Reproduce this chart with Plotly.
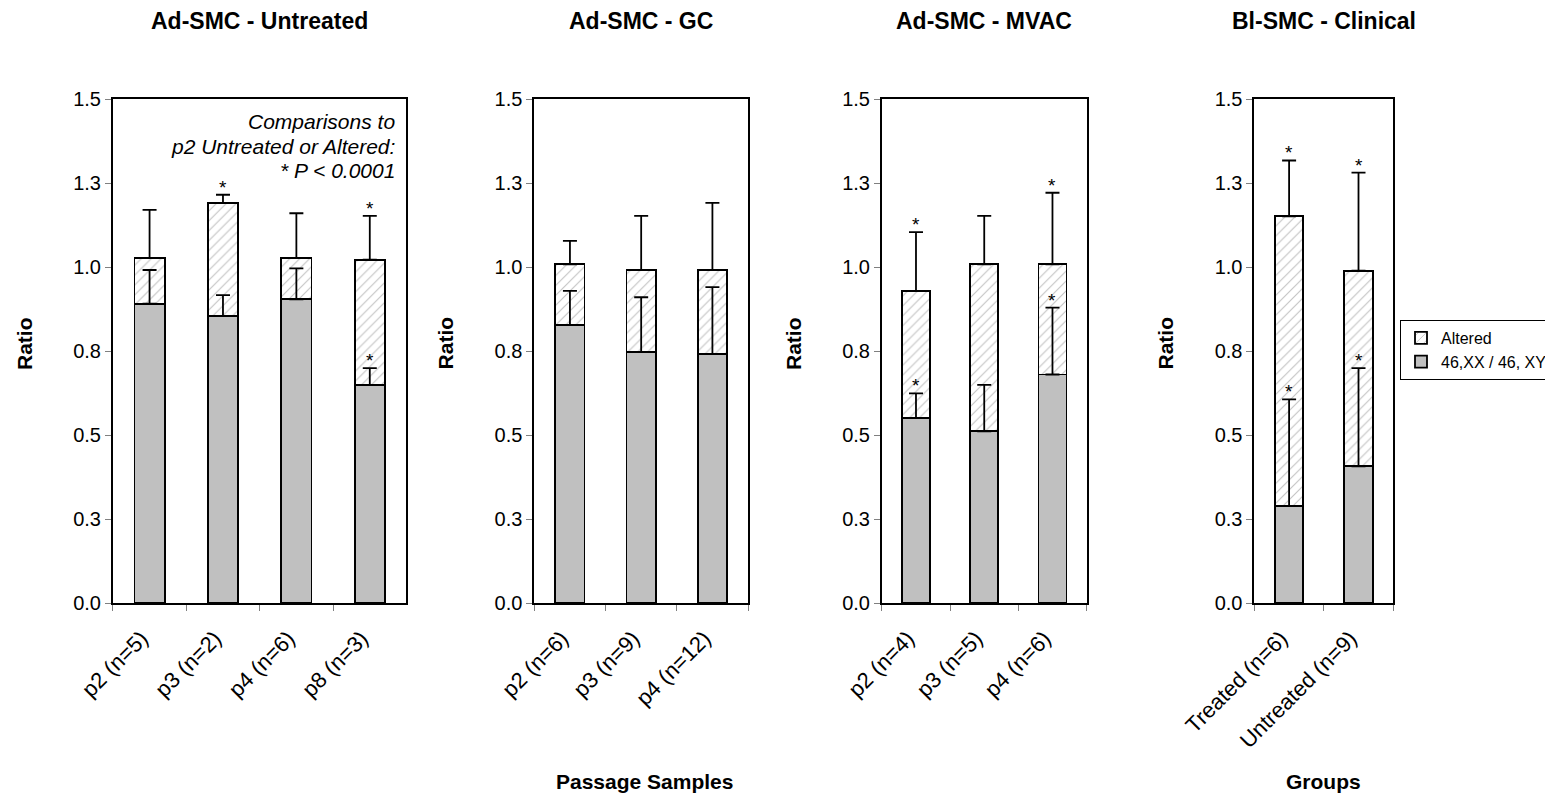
import plotly.graph_objects as go

# ---------------- data ----------------
panel_titles = ["Ad-SMC - Untreated", "Ad-SMC - GC", "Ad-SMC - MVAC", "Bl-SMC - Clinical"]

cats1 = ["p2 (n=5)", "p3 (n=2)", "p4 (n=6)", "p8 (n=3)"]
normal1 = [0.891, 0.854, 0.904, 0.649]
altered1 = [0.136, 0.337, 0.123, 0.373]
normal_sd1 = [0.100, 0.062, 0.092, 0.050]
total_sd1 = [0.143, 0.024, 0.133, 0.130]
sig_normal1 = [False, False, False, True]
sig_total1 = [False, True, False, True]

cats2 = ["p2 (n=6)", "p3 (n=9)", "p4 (n=12)"]
normal2 = [0.828, 0.747, 0.741]
altered2 = [0.180, 0.244, 0.250]
normal_sd2 = [0.101, 0.163, 0.199]
total_sd2 = [0.070, 0.161, 0.200]
sig_normal2 = [False, False, False]
sig_total2 = [False, False, False]

cats3 = ["p2 (n=4)", "p3 (n=5)", "p4 (n=6)"]
normal3 = [0.550, 0.511, 0.680]
altered3 = [0.379, 0.497, 0.328]
normal_sd3 = [0.074, 0.138, 0.199]
total_sd3 = [0.175, 0.144, 0.213]
sig_normal3 = [True, False, True]
sig_total3 = [True, False, True]

cats4 = ["Treated (n=6)", "Untreated (n=9)"]
normal4 = [0.289, 0.407]
altered4 = [0.862, 0.582]
normal_sd4 = [0.317, 0.292]
total_sd4 = [0.166, 0.292]
sig_normal4 = [True, True]
sig_total4 = [True, True]

y_tickvals = [0, 0.25, 0.5, 0.75, 1.0, 1.25, 1.5]
y_ticktext = ["0.0", "0.3", "0.5", "0.8", "1.0", "1.3", "1.5"]

note_lines = ["Comparisons to", "p2 Untreated or Altered:", "* P &lt; 0.0001"]

panels = [
    (cats1, normal1, altered1, normal_sd1, total_sd1, sig_normal1, sig_total1),
    (cats2, normal2, altered2, normal_sd2, total_sd2, sig_normal2, sig_total2),
    (cats3, normal3, altered3, normal_sd3, total_sd3, sig_normal3, sig_total3),
    (cats4, normal4, altered4, normal_sd4, total_sd4, sig_normal4, sig_total4),
]

# ---------------- layout geometry (page pixels) ----------------
PAGE_W, PAGE_H = 1553, 795
OFF = 8                      # default body margin of the html page
W, H = PAGE_W - OFF, PAGE_H - OFF


def PX(x):
    return (x - OFF) / W


def PY(y):
    return 1 - (y - OFF) / H


x_px = [(113, 407), (535, 749), (883, 1088), (1256, 1395)]
y_top, y_bot = 99, 603
ydom = [PY(y_bot), PY(y_top)]

FONT = "Liberation Sans, Arial, sans-serif"
GRAY = "#c0c0c0"

fig = go.Figure()
annotations = []


def paper_note(xpx, ypx, text, size, bold=False, angle=0, xanchor="center"):
    return dict(x=PX(xpx), y=PY(ypx), xref="paper", yref="paper",
                xanchor=xanchor, yanchor="middle", textangle=angle,
                text=("<b>%s</b>" % text) if bold else text, showarrow=False,
                font=dict(family=FONT, size=size, color="black"))


for i, (cats, normal, altered, nsd, tsd, sign, sigt) in enumerate(panels):
    k = "" if i == 0 else str(i + 1)
    xa, ya = "x" + k, "y" + k
    total = [a + b for a, b in zip(normal, altered)]
    fig.add_trace(go.Bar(
        x=cats, y=normal, xaxis=xa, yaxis=ya, name="46,XX / 46, XY",
        marker=dict(color=GRAY, line=dict(color="black", width=1.8)),
        width=0.41, showlegend=(i == 0), legendgroup="n",
    ))
    fig.add_trace(go.Bar(
        x=cats, y=altered, xaxis=xa, yaxis=ya, name="Altered",
        marker=dict(color="white", line=dict(color="black", width=1.8),
                    pattern=dict(shape="/", fgcolor="#c4c4c4", bgcolor="white",
                                 size=7, solidity=0.16)),
        width=0.41, showlegend=(i == 0), legendgroup="a",
    ))
    for yy, sd in ((normal, nsd), (total, tsd)):
        fig.add_trace(go.Scatter(
            x=cats, y=yy, xaxis=xa, yaxis=ya, mode="markers",
            marker=dict(size=1, opacity=0), showlegend=False, hoverinfo="skip",
            error_y=dict(type="data", array=sd, arrayminus=[0] * len(sd),
                         symmetric=False, color="black", thickness=1.8, width=7),
        ))
    for c, yy, sd, s in list(zip(cats, normal, nsd, sign)) + list(zip(cats, total, tsd, sigt)):
        if s:
            annotations.append(dict(x=c, y=yy + sd, xref=xa, yref=ya, text="*",
                                    showarrow=False, xanchor="center", yanchor="bottom",
                                    yshift=-5,
                                    font=dict(family=FONT, size=19, color="black")))

    x0, x1 = x_px[i]
    fig.layout["xaxis" + k] = dict(
        domain=[PX(x0), PX(x1)], anchor=ya, type="category", automargin=False,
        showline=True, linecolor="black", linewidth=1.8, mirror=True,
        ticks="outside", tickson="boundaries", ticklen=6, tickcolor="#808080",
        tickwidth=1.2, tickangle=-45, showgrid=False, zeroline=False,
        ticklabelstandoff=12, ticklabelshift=-8,
        tickfont=dict(family=FONT, size=22, color="black"), fixedrange=True,
    )
    fig.layout["yaxis" + k] = dict(
        domain=ydom, anchor=xa, range=[0, 1.5], tickvals=y_tickvals, ticktext=y_ticktext,
        automargin=False,
        showline=True, linecolor="black", linewidth=1.8, mirror=True,
        ticks="outside", ticklen=6, tickcolor="#808080", tickwidth=1.2,
        showgrid=False, zeroline=False,
        tickfont=dict(family=FONT, size=20, color="black"), fixedrange=True,
    )
    annotations.append(paper_note((x0 + x1) / 2, 21, panel_titles[i], 23, bold=True))
    annotations.append(paper_note(x0 - 89, 343, "Ratio", 21, bold=True, angle=-90))

annotations.append(paper_note(645, 781, "Passage Samples", 21, bold=True))
annotations.append(paper_note(1325, 781, "Groups", 21, bold=True))
for j, line in enumerate(note_lines):
    annotations.append(paper_note(398, 121 + 25 * j, "<i>%s</i>" % line, 21, xanchor="right"))

fig.update_layout(
    template="none",
    width=W, height=H, margin=dict(l=0, r=0, t=0, b=0),
    paper_bgcolor="white", plot_bgcolor="white",
    barmode="stack",
    font=dict(family=FONT, color="black"),
    annotations=annotations,
    legend=dict(x=PX(1402), y=PY(320), xanchor="left", yanchor="top",
                bordercolor="black", borderwidth=1, bgcolor="white",
                traceorder="reversed", font=dict(family=FONT, size=16, color="black"),
                itemwidth=30, tracegroupgap=16),
)

fig.write_html("out.html")
